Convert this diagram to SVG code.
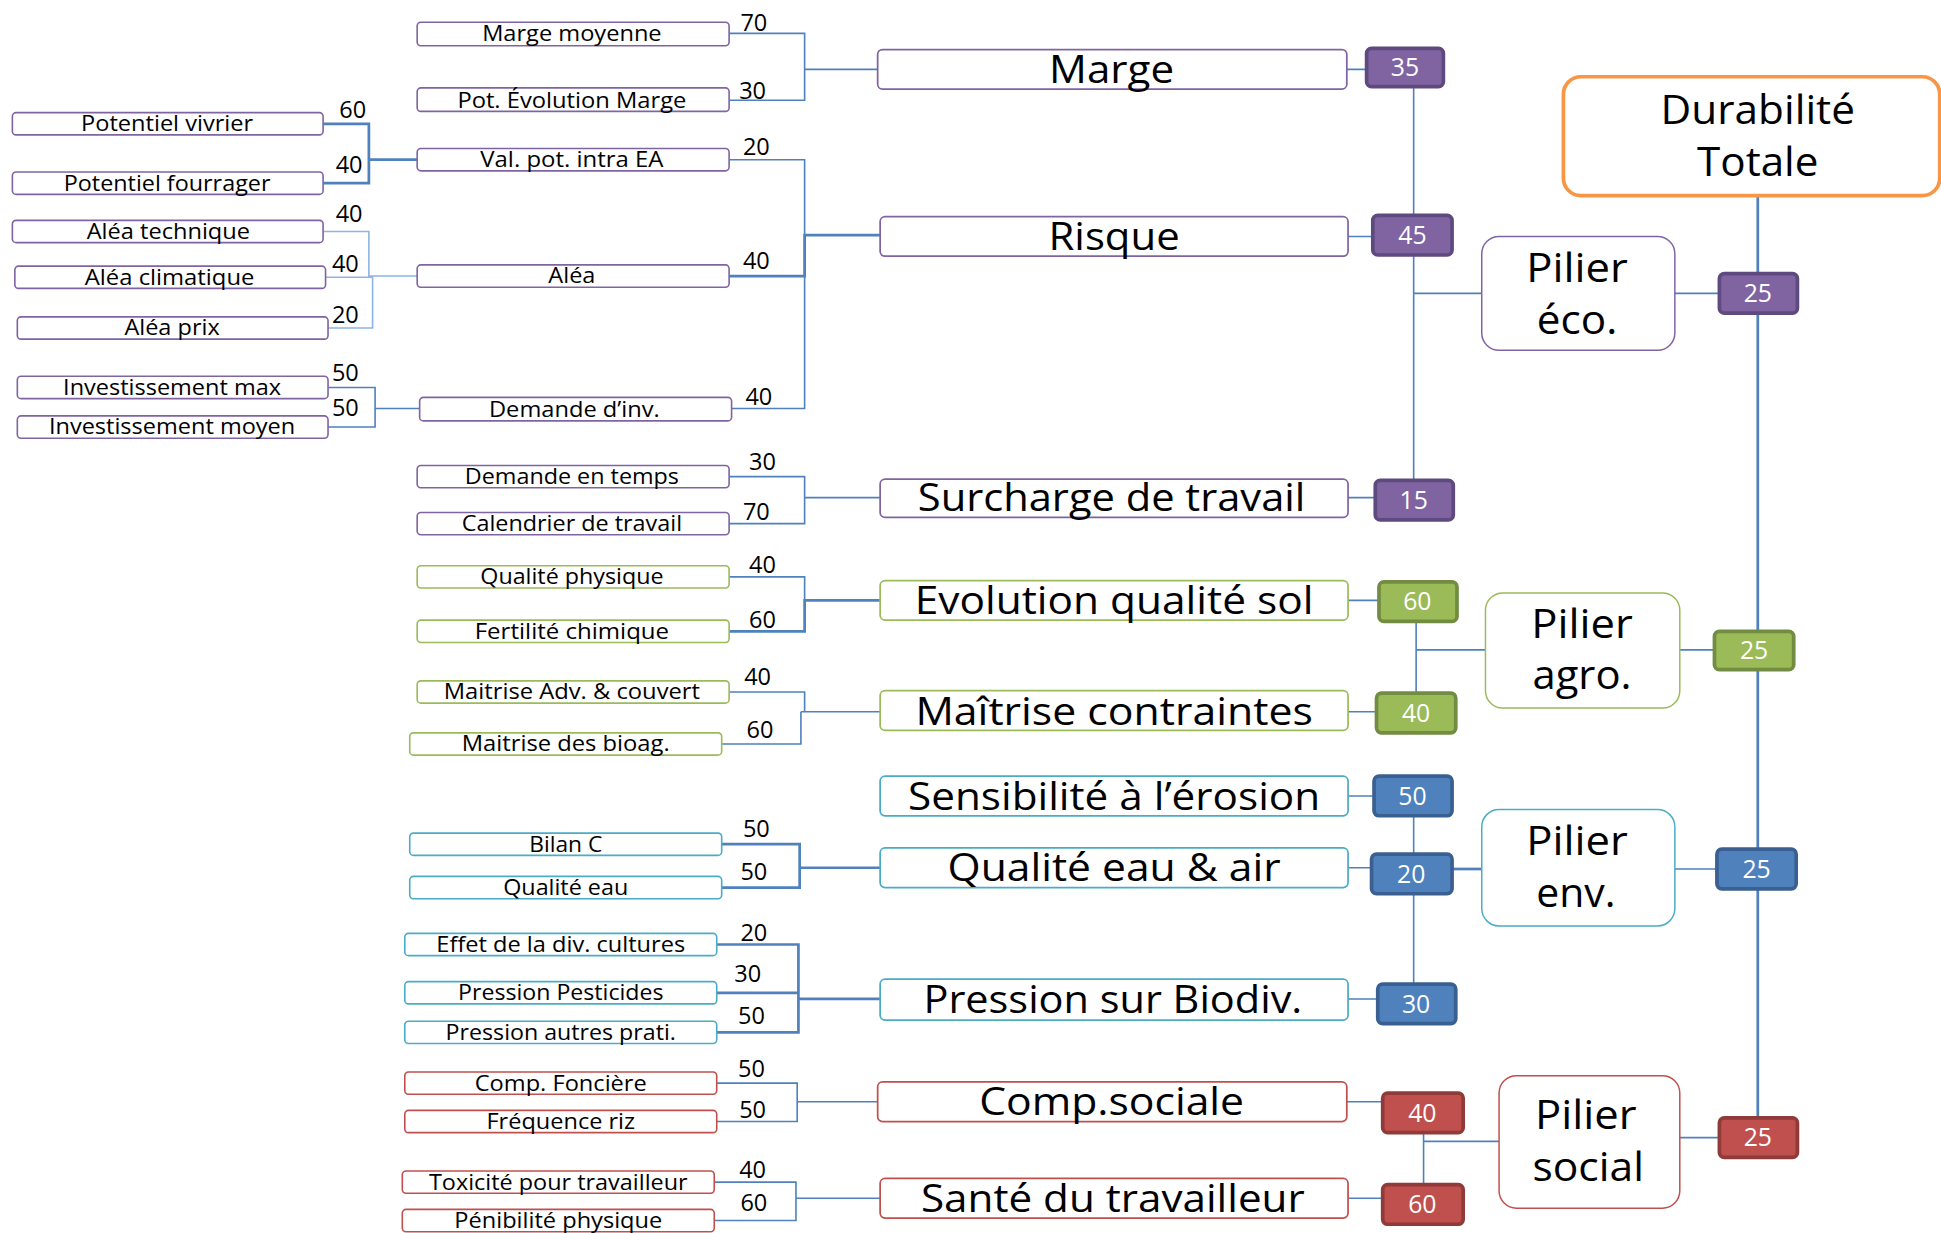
<svg xmlns="http://www.w3.org/2000/svg" width="1941" height="1233" viewBox="0 0 1941 1233">
<style>
.t{font-family:"Open Sans","Liberation Sans",sans-serif;text-anchor:middle;fill:#000}
.sm{font-size:17px}
.bg{font-size:31px}
.pl{font-size:33px}
.nb{font-size:19px}
.vw{font-size:20px;fill:#fff}
.bx{fill:#fff;stroke-width:1.3}
.big{fill:#fff;stroke-width:1.4}
.pil{fill:#fff;stroke-width:1.2}
.pu{stroke:#8064A2}
.gr{stroke:#9BBB59}
.cy{stroke:#4BACC6}
.rd{stroke:#C0504D}
.vpu{fill:#8064A2;stroke:#5F4A80;stroke-width:3}
.vgr{fill:#9BBB59;stroke:#728C42;stroke-width:3}
.vbl{fill:#4F81BD;stroke:#3A6091;stroke-width:3}
.vrd{fill:#C0504D;stroke:#8F3B39;stroke-width:3}
.c{fill:none;stroke:#4F81BD;stroke-width:1.3}
.cl{fill:none;stroke:#8EB4E3;stroke-width:1.3}
.cd{fill:none;stroke:#4F81BD;stroke-width:2.2}
</style>
<rect width="1941" height="1233" fill="#fff"/>
<g transform="scale(1.23788)">
<g id="connectors">
<path class="cd" d="M261,100 H298 V148 H261 M298,129 H337"/>
<path class="cl" d="M261,187 H298 V224 M263,224 H301 M265,265 H301 V224 M298,223 H337"/>
<path class="c" d="M265,313 H303 V345 H265 M303,330 H339"/>
<path class="c" d="M589,27 H650 V81 H589 M650,56 H709"/>
<path class="c" d="M589,129 H650 V330 H591"/>
<path class="cd" d="M589,223 H650 V190 H711"/>
<path class="c" d="M589,385 H650 V423 H589 M650,402 H711"/>
<path class="c" d="M589,466 H650 V485"/>
<path class="cd" d="M589,510 H650 V485 H711"/>
<path class="c" d="M589,559 H650 V575 M583,601 H647 V575 M647,575 H711"/>
<path class="cd" d="M583,682 H646 V717 H583 M646,701 H711"/>
<path class="cd" d="M579,763 H645 V834 H579 M579,802 H645 M645,807 H711"/>
<path class="c" d="M579,875 H644 V906 H579 M644,890 H709"/>
<path class="c" d="M577,955 H643 V986 H577 M643,968 H711"/>
<path class="c" d="M1088,56 H1104 M1089,191 H1109 M1089,402 H1111 M1089,485 H1114 M1089,575 H1112 M1089,643 H1110 M1089,701 H1108 M1089,807 H1113 M1088,890 H1117 M1089,968 H1117"/>
<path class="c" d="M1142,70 V388 M1142,237 H1197"/>
<path class="c" d="M1144,502 V560 M1144,525 H1200"/>
<path class="c" d="M1142,659 V795"/>
<path class="cd" d="M1173,702 H1197"/>
<path class="c" d="M1150,915 V957 M1150,922 H1211"/>
<path class="c" d="M1353,237 H1389 M1357,525 H1385 M1353,702 H1387 M1357,919 H1389"/>
<path class="cd" d="M1420,158 V903"/>
<g class="t nb">
<text x="285" y="95">60</text>
<text x="282" y="140">40</text>
<text x="282" y="179">40</text>
<text x="279" y="220">40</text>
<text x="279" y="261">20</text>
<text x="279" y="308">50</text>
<text x="279" y="336">50</text>
<text x="609" y="25">70</text>
<text x="608" y="80">30</text>
<text x="611" y="125">20</text>
<text x="611" y="217">40</text>
<text x="613" y="327">40</text>
<text x="616" y="380">30</text>
<text x="611" y="420">70</text>
<text x="616" y="463">40</text>
<text x="616" y="507">60</text>
<text x="612" y="553">40</text>
<text x="614" y="596">60</text>
<text x="611" y="676">50</text>
<text x="609" y="711">50</text>
<text x="609" y="760">20</text>
<text x="604" y="793">30</text>
<text x="607" y="827">50</text>
<text x="607" y="870">50</text>
<text x="608" y="903">50</text>
<text x="608" y="952">40</text>
<text x="609" y="978">60</text>
</g>
</g>

<g id="n-potentiel-vivrier"><rect class="bx pu" x="10" y="91" width="251" height="18" rx="3"/><text class="t sm" x="135" y="106" textLength="139" lengthAdjust="spacingAndGlyphs">Potentiel vivrier</text></g>
<g id="n-potentiel-fourrager"><rect class="bx pu" x="10" y="139" width="251" height="18" rx="3"/><text class="t sm" x="135" y="154" textLength="167" lengthAdjust="spacingAndGlyphs">Potentiel fourrager</text></g>
<g id="n-alea-technique"><rect class="bx pu" x="10" y="178" width="251" height="18" rx="3"/><text class="t sm" x="136" y="193" textLength="132" lengthAdjust="spacingAndGlyphs">Aléa technique</text></g>
<g id="n-alea-climatique"><rect class="bx pu" x="12" y="215" width="251" height="18" rx="3"/><text class="t sm" x="137" y="230" textLength="137" lengthAdjust="spacingAndGlyphs">Aléa climatique</text></g>
<g id="n-alea-prix"><rect class="bx pu" x="14" y="256" width="251" height="18" rx="3"/><text class="t sm" x="139" y="271" textLength="77" lengthAdjust="spacingAndGlyphs">Aléa prix</text></g>
<g id="n-invest-max"><rect class="bx pu" x="14" y="304" width="251" height="18" rx="3"/><text class="t sm" x="139" y="319" textLength="176" lengthAdjust="spacingAndGlyphs">Investissement max</text></g>
<g id="n-invest-moyen"><rect class="bx pu" x="14" y="336" width="251" height="18" rx="3"/><text class="t sm" x="139" y="351" textLength="199" lengthAdjust="spacingAndGlyphs">Investissement moyen</text></g>

<g id="n-marge-moyenne"><rect class="bx pu" x="337" y="18" width="252" height="19" rx="3"/><text class="t sm" x="462" y="33" textLength="145" lengthAdjust="spacingAndGlyphs">Marge moyenne</text></g>
<g id="n-pot-evolution"><rect class="bx pu" x="337" y="71" width="252" height="19" rx="3"/><text class="t sm" x="462" y="87" textLength="185" lengthAdjust="spacingAndGlyphs">Pot. Évolution Marge</text></g>
<g id="n-val-pot"><rect class="bx pu" x="337" y="120" width="252" height="18" rx="3"/><text class="t sm" x="462" y="135" textLength="148" lengthAdjust="spacingAndGlyphs">Val. pot. intra EA</text></g>
<g id="n-alea"><rect class="bx pu" x="337" y="214" width="252" height="18" rx="3"/><text class="t sm" x="462" y="229" textLength="38" lengthAdjust="spacingAndGlyphs">Aléa</text></g>
<g id="n-demande-inv"><rect class="bx pu" x="339" y="321" width="252" height="19" rx="3"/><text class="t sm" x="464" y="337" textLength="138" lengthAdjust="spacingAndGlyphs">Demande d’inv.</text></g>
<g id="n-demande-temps"><rect class="bx pu" x="337" y="376" width="252" height="18" rx="3"/><text class="t sm" x="462" y="391" textLength="173" lengthAdjust="spacingAndGlyphs">Demande en temps</text></g>
<g id="n-calendrier"><rect class="bx pu" x="337" y="414" width="252" height="18" rx="3"/><text class="t sm" x="462" y="429" textLength="178" lengthAdjust="spacingAndGlyphs">Calendrier de travail</text></g>
<g id="n-qualite-physique"><rect class="bx gr" x="337" y="457" width="252" height="18" rx="3"/><text class="t sm" x="462" y="472" textLength="148" lengthAdjust="spacingAndGlyphs">Qualité physique</text></g>
<g id="n-fertilite"><rect class="bx gr" x="337" y="501" width="252" height="18" rx="3"/><text class="t sm" x="462" y="516" textLength="157" lengthAdjust="spacingAndGlyphs">Fertilité chimique</text></g>
<g id="n-maitrise-adv"><rect class="bx gr" x="337" y="550" width="252" height="18" rx="3"/><text class="t sm" x="462" y="565" textLength="207" lengthAdjust="spacingAndGlyphs">Maitrise Adv. &amp; couvert</text></g>
<g id="n-maitrise-bioag"><rect class="bx gr" x="331" y="592" width="252" height="18" rx="3"/><text class="t sm" x="457" y="607" textLength="168" lengthAdjust="spacingAndGlyphs">Maitrise des bioag.</text></g>
<g id="n-bilan-c"><rect class="bx cy" x="331" y="673" width="252" height="18" rx="3"/><text class="t sm" x="457" y="688" textLength="59" lengthAdjust="spacingAndGlyphs">Bilan C</text></g>
<g id="n-qualite-eau"><rect class="bx cy" x="331" y="708" width="252" height="18" rx="3"/><text class="t sm" x="457" y="723" textLength="101" lengthAdjust="spacingAndGlyphs">Qualité eau</text></g>
<g id="n-effet-div"><rect class="bx cy" x="327" y="754" width="252" height="18" rx="3"/><text class="t sm" x="453" y="769" textLength="201" lengthAdjust="spacingAndGlyphs">Effet de la div. cultures</text></g>
<g id="n-pression-pest"><rect class="bx cy" x="327" y="793" width="252" height="18" rx="3"/><text class="t sm" x="453" y="808" textLength="166" lengthAdjust="spacingAndGlyphs">Pression Pesticides</text></g>
<g id="n-pression-autres"><rect class="bx cy" x="327" y="825" width="252" height="18" rx="3"/><text class="t sm" x="453" y="840" textLength="186" lengthAdjust="spacingAndGlyphs">Pression autres prati.</text></g>
<g id="n-comp-fonciere"><rect class="bx rd" x="327" y="866" width="252" height="18" rx="3"/><text class="t sm" x="453" y="881" textLength="139" lengthAdjust="spacingAndGlyphs">Comp. Foncière</text></g>
<g id="n-frequence-riz"><rect class="bx rd" x="327" y="897" width="252" height="18" rx="3"/><text class="t sm" x="453" y="912" textLength="120" lengthAdjust="spacingAndGlyphs">Fréquence riz</text></g>
<g id="n-toxicite"><rect class="bx rd" x="325" y="946" width="252" height="18" rx="3"/><text class="t sm" x="451" y="961" textLength="209" lengthAdjust="spacingAndGlyphs">Toxicité pour travailleur</text></g>
<g id="n-penibilite"><rect class="bx rd" x="325" y="977" width="252" height="18" rx="3"/><text class="t sm" x="451" y="992" textLength="168" lengthAdjust="spacingAndGlyphs">Pénibilité physique</text></g>

<g id="n-marge"><rect class="big pu" x="709" y="40" width="379" height="32" rx="4"/><text class="t bg" x="898" y="67" textLength="101" lengthAdjust="spacingAndGlyphs">Marge</text></g>
<g id="n-risque"><rect class="big pu" x="711" y="175" width="378" height="32" rx="4"/><text class="t bg" x="900" y="202" textLength="106" lengthAdjust="spacingAndGlyphs">Risque</text></g>
<g id="n-surcharge"><rect class="big pu" x="711" y="387" width="378" height="31" rx="4"/><text class="t bg" x="898" y="413" textLength="313" lengthAdjust="spacingAndGlyphs">Surcharge de travail</text></g>
<g id="n-evolution"><rect class="big gr" x="711" y="469" width="378" height="32" rx="4"/><text class="t bg" x="900" y="496" textLength="322" lengthAdjust="spacingAndGlyphs">Evolution qualité sol</text></g>
<g id="n-maitrise"><rect class="big gr" x="711" y="558" width="378" height="32" rx="4"/><text class="t bg" x="900" y="586" textLength="321" lengthAdjust="spacingAndGlyphs">Maîtrise contraintes</text></g>
<g id="n-sensibilite"><rect class="big cy" x="711" y="627" width="378" height="32" rx="4"/><text class="t bg" x="900" y="654" textLength="333" lengthAdjust="spacingAndGlyphs">Sensibilité à l’érosion</text></g>
<g id="n-qualite-eau-air"><rect class="big cy" x="711" y="685" width="378" height="32" rx="4"/><text class="t bg" x="900" y="712" textLength="269" lengthAdjust="spacingAndGlyphs">Qualité eau &amp; air</text></g>
<g id="n-pression-biodiv"><rect class="big cy" x="711" y="791" width="378" height="33" rx="4"/><text class="t bg" x="899" y="818" textLength="306" lengthAdjust="spacingAndGlyphs">Pression sur Biodiv.</text></g>
<g id="n-comp-sociale"><rect class="big rd" x="709" y="874" width="379" height="32" rx="4"/><text class="t bg" x="898" y="901" textLength="214" lengthAdjust="spacingAndGlyphs">Comp.sociale</text></g>
<g id="n-sante"><rect class="big rd" x="711" y="952" width="378" height="32" rx="4"/><text class="t bg" x="899" y="979" textLength="310" lengthAdjust="spacingAndGlyphs">Santé du travailleur</text></g>

<g id="v-marge"><rect class="vpu" x="1104" y="39" width="62" height="31" rx="4"/><text class="t vw" x="1135" y="61">35</text></g>
<g id="v-risque"><rect class="vpu" x="1109" y="174" width="64" height="32" rx="4"/><text class="t vw" x="1141" y="197">45</text></g>
<g id="v-surcharge"><rect class="vpu" x="1111" y="388" width="63" height="32" rx="4"/><text class="t vw" x="1142" y="411">15</text></g>
<g id="v-evolution"><rect class="vgr" x="1114" y="470" width="63" height="32" rx="4"/><text class="t vw" x="1145" y="493">60</text></g>
<g id="v-maitrise"><rect class="vgr" x="1112" y="560" width="64" height="32" rx="4"/><text class="t vw" x="1144" y="583">40</text></g>
<g id="v-sensibilite"><rect class="vbl" x="1110" y="627" width="63" height="32" rx="4"/><text class="t vw" x="1141" y="650">50</text></g>
<g id="v-qualite"><rect class="vbl" x="1108" y="690" width="65" height="32" rx="4"/><text class="t vw" x="1140" y="713">20</text></g>
<g id="v-pression"><rect class="vbl" x="1113" y="795" width="63" height="32" rx="4"/><text class="t vw" x="1144" y="818">30</text></g>
<g id="v-comp"><rect class="vrd" x="1117" y="883" width="65" height="32" rx="4"/><text class="t vw" x="1149" y="906">40</text></g>
<g id="v-sante"><rect class="vrd" x="1117" y="957" width="65" height="32" rx="4"/><text class="t vw" x="1149" y="980">60</text></g>

<g id="p-eco"><rect class="pil pu" x="1197" y="191" width="156" height="92" rx="14"/><text class="t pl" x="1274" y="228" textLength="82" lengthAdjust="spacingAndGlyphs">Pilier</text><text class="t pl" x="1274" y="270" textLength="65" lengthAdjust="spacingAndGlyphs">éco.</text></g>
<g id="p-agro"><rect class="pil gr" x="1200" y="479" width="157" height="93" rx="14"/><text class="t pl" x="1278" y="515" textLength="82" lengthAdjust="spacingAndGlyphs">Pilier</text><text class="t pl" x="1278" y="557" textLength="80" lengthAdjust="spacingAndGlyphs">agro.</text></g>
<g id="p-env"><rect class="pil cy" x="1197" y="654" width="156" height="94" rx="14"/><text class="t pl" x="1274" y="691" textLength="82" lengthAdjust="spacingAndGlyphs">Pilier</text><text class="t pl" x="1273" y="733" textLength="64" lengthAdjust="spacingAndGlyphs">env.</text></g>
<g id="p-social"><rect class="pil rd" x="1211" y="869" width="146" height="107" rx="14"/><text class="t pl" x="1281" y="912" textLength="82" lengthAdjust="spacingAndGlyphs">Pilier</text><text class="t pl" x="1283" y="954" textLength="90" lengthAdjust="spacingAndGlyphs">social</text></g>

<g id="w-eco"><rect class="vpu" x="1389" y="221" width="63" height="32" rx="4"/><text class="t vw" x="1420" y="244">25</text></g>
<g id="w-agro"><rect class="vgr" x="1385" y="510" width="64" height="31" rx="4"/><text class="t vw" x="1417" y="532">25</text></g>
<g id="w-env"><rect class="vbl" x="1387" y="686" width="64" height="32" rx="4"/><text class="t vw" x="1419" y="709">25</text></g>
<g id="w-social"><rect class="vrd" x="1389" y="903" width="63" height="32" rx="4"/><text class="t vw" x="1420" y="926">25</text></g>

<g id="durabilite"><rect x="1263" y="62" width="304" height="96" rx="14" fill="#fff" stroke="#F79646" stroke-width="3"/><text class="t pl" x="1420" y="100" textLength="157" lengthAdjust="spacingAndGlyphs">Durabilité</text><text class="t pl" x="1420" y="142" textLength="98" lengthAdjust="spacingAndGlyphs">Totale</text></g>
</g>
</svg>
